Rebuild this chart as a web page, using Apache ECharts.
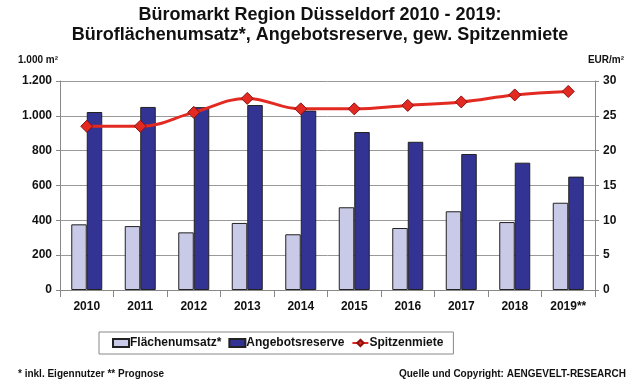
<!DOCTYPE html>
<html><head><meta charset="utf-8">
<script src="https://cdn.jsdelivr.net/npm/echarts@6/dist/echarts.min.js"></script>
<style>html,body{margin:0;padding:0;background:#fff}#c{width:640px;height:388px}</style>
</head><body><div id="c"></div>
<script>
const categories = ['2010','2011','2012','2013','2014','2015','2016','2017','2018','2019**'];
const flaechenumsatz = [377, 367, 331, 385, 320, 475, 356, 452, 390, 501];
const angebotsreserve = [1022, 1051, 1050, 1062, 1030, 907, 851, 781, 731, 651];
const spitzenmiete = [23.5, 23.5, 25.5, 27.5, 26, 26, 26.5, 27, 28, 28.5];
const leftTicks = [0, 200, 400, 600, 800, 1000, 1200];
const rightTicks = [0, 5, 10, 15, 20, 25, 30];

const font = 'Liberation Sans, Arial, sans-serif';
const chart = echarts.init(document.getElementById('c'));
const fmtLeft = v => v >= 1000 ? (Math.floor(v/1000) + '.' + String(v%1000).padStart(3,'0')) : String(v);
chart.setOption({
  animation: false,
  textStyle: {fontFamily: font},
  title: {
    text: 'Büromarkt Region Düsseldorf 2010 - 2019:\nBüroflächenumsatz*, Angebotsreserve, gew. Spitzenmiete',
    left: 'center', top: 0,
    textStyle: {fontSize: 18, fontWeight: 'bold', color: '#111', lineHeight: 20, fontFamily: font}
  },
  graphic: [
    {type: 'text', left: 18, top: 55, style: {text: '1.000 m²', font: 'bold 10px ' + font, fill: '#111'}},
    {type: 'text', right: 16, top: 55, style: {text: 'EUR/m²', font: 'bold 10px ' + font, fill: '#111'}},
    {type: 'text', left: 18, top: 369, style: {text: '* inkl. Eigennutzer ** Prognose', font: 'bold 10px ' + font, fill: '#111'}},
    {type: 'text', right: 14, top: 369, style: {text: 'Quelle und Copyright: AENGEVELT-RESEARCH', font: 'bold 10px ' + font, fill: '#111'}}
  ],
  legend: {
    left: 99, top: 332,
    padding: [5, 10, 5, 13],
    borderColor: '#888', borderWidth: 1,
    itemGap: 7, itemWidth: 16, itemHeight: 8,
    textStyle: {fontSize: 12, fontWeight: 'bold', color: '#111', fontFamily: font, padding: [0,0,0,-4]},
    data: [
      {name: 'Flächenumsatz*', icon: 'rect'},
      {name: 'Angebotsreserve', icon: 'rect'},
      {name: 'Spitzenmiete'}
    ]
  },
  grid: {left: 60, right: 45, top: 81, bottom: 98},
  xAxis: {
    type: 'category', data: categories,
    axisLine: {lineStyle: {color: '#888'}},
    axisTick: {show: true, length: 7, lineStyle: {color: '#888'}},
    axisLabel: {fontSize: 12, fontWeight: 'bold', color: '#111', margin: 11, fontFamily: font}
  },
  yAxis: [
    {type: 'value', min: 0, max: 1200, interval: 200,
     axisLine: {show: true, lineStyle: {color: '#888'}},
     axisTick: {show: true, length: 4, lineStyle: {color: '#888'}},
     splitLine: {lineStyle: {color: '#999', width: 1}},
     axisLabel: {fontSize: 12, fontWeight: 'bold', color: '#111', margin: 8, formatter: fmtLeft, fontFamily: font}},
    {type: 'value', min: 0, max: 30, interval: 5, position: 'right',
     axisLine: {show: true, lineStyle: {color: '#888'}},
     axisTick: {show: true, length: 4, lineStyle: {color: '#888'}},
     splitLine: {show: false},
     axisLabel: {fontSize: 12, fontWeight: 'bold', color: '#111', margin: 8, fontFamily: font}}
  ],
  series: [
    {name: 'Flächenumsatz*', type: 'bar', data: flaechenumsatz, barWidth: 15.5, barGap: '0%',
     itemStyle: {color: '#c9c9e8', borderColor: '#222', borderWidth: 1}},
    {name: 'Angebotsreserve', type: 'bar', data: angebotsreserve, barWidth: 15.5,
     itemStyle: {color: '#333394', borderColor: '#222', borderWidth: 1}},
    {name: 'Spitzenmiete', type: 'line', yAxisIndex: 1, data: spitzenmiete, smooth: 0.4,
     symbol: 'diamond', symbolSize: 12,
     lineStyle: {color: '#e32a22', width: 3},
     itemStyle: {color: '#e32a22', borderColor: '#8a1010', borderWidth: 1}}
  ]
});
</script></body></html>
